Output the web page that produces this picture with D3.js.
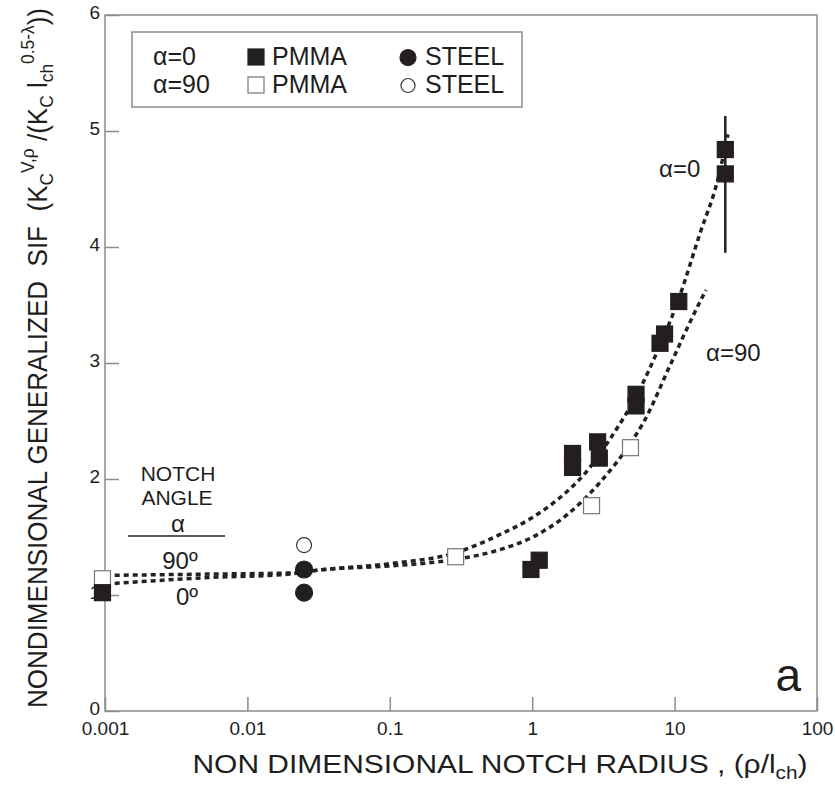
<!DOCTYPE html>
<html>
<head>
<meta charset="utf-8">
<script src="https://cdn.jsdelivr.net/npm/d3@7"></script>
<style>
  body { margin: 0; background: #fff; }
  svg text { font-family: "Liberation Sans", Arial, sans-serif; fill: #1e1e1e; }
</style>
</head>
<body>
<div id="chart"></div>
<script>
// x ticks (log) and y ticks
var xTicks = [0.001, 0.01, 0.1, 1, 10, 100];
var xTickLabels = ["0.001", "0.01", "0.1", "1", "10", "100"];
var yTicks = [0, 1, 2, 3, 4, 5, 6];

// PMMA, alpha = 0 (filled squares)
var pmma0X = [0.00096, 0.98, 1.12, 1.92, 1.92, 2.88, 2.96, 5.36, 5.36, 7.9, 8.5, 10.7, 22.7, 22.7];
var pmma0Y = [1.02, 1.22, 1.30, 2.22, 2.10, 2.32, 2.18, 2.73, 2.63, 3.17, 3.25, 3.53, 4.84, 4.63];

// PMMA, alpha = 90 (open squares)
var pmma90X = [0.00096, 0.29, 2.61, 4.9];
var pmma90Y = [1.14, 1.33, 1.77, 2.27];

// steel
var steel0X = [0.025, 0.025];
var steel0Y = [1.22, 1.02];
var steel90X = [0.025];
var steel90Y = [1.43];

// error bar on the largest radius
var errX = 22.7;
var errLow = 3.95;
var errHigh = 5.13;

// dashed fit curves
var curve0X = [0.00117, 0.0052, 0.020, 0.025, 0.035, 0.1, 0.3, 0.59, 1.01, 1.75, 2.28, 3.5, 6.0, 7.5, 10.6, 15.1, 19.9, 23.7];
var curve0Y = [1.10, 1.15, 1.18, 1.20, 1.22, 1.27, 1.37, 1.52, 1.67, 1.89, 2.03, 2.34, 2.83, 3.09, 3.54, 4.12, 4.56, 4.97];
var curve90X = [0.00117, 0.0052, 0.020, 0.025, 0.035, 0.1, 0.3, 0.59, 1.01, 1.75, 2.99, 5.1, 6.0, 9.3, 12.8, 16.6];
var curve90Y = [1.17, 1.18, 1.19, 1.20, 1.22, 1.25, 1.31, 1.39, 1.50, 1.69, 1.97, 2.34, 2.48, 2.98, 3.35, 3.63];

var svgWidth = 835;
var svgHeight = 785;
var margin = { top: 15, right: 18, bottom: 74, left: 105 };
var width = svgWidth - margin.left - margin.right;
var height = svgHeight - margin.top - margin.bottom;

var svg = d3.select("#chart")
    .append("svg")
    .attr("width", svgWidth)
    .attr("height", svgHeight);

var chartGroup = svg.append("g")
    .attr("transform", `translate(${margin.left}, ${margin.top})`);

var xScale = d3.scaleLog().domain([0.001, 100]).range([0, width]);
var yScale = d3.scaleLinear().domain([0, 6]).range([height, 0]);

var axisColor = "#8c8c8c";

// axes with inward ticks
var bottomAxis = d3.axisBottom(xScale)
    .tickValues(xTicks)
    .tickFormat((d, i) => xTickLabels[i])
    .tickSize(-14)
    .tickPadding(11);
var leftAxis = d3.axisLeft(yScale)
    .tickValues(yTicks)
    .tickFormat(d3.format("d"))
    .tickSize(-14)
    .tickPadding(5);

var gx = chartGroup.append("g")
    .attr("transform", `translate(0, ${height})`)
    .call(bottomAxis);
var gy = chartGroup.append("g").call(leftAxis);

[gx, gy].forEach(function(g) {
  g.select(".domain").remove();
  g.selectAll(".tick line").attr("stroke", axisColor).attr("stroke-width", 1.5);
  g.selectAll(".tick text").attr("font-size", "19px").attr("fill", "#1e1e1e");
});
gy.selectAll(".tick text").attr("dy", "0.2em");

// frame
chartGroup.append("rect")
    .attr("x", 0).attr("y", 0)
    .attr("width", width).attr("height", height)
    .attr("fill", "none")
    .attr("stroke", axisColor)
    .attr("stroke-width", 1.5);

// fit curves
var line = d3.line()
    .x(d => xScale(d[0]))
    .y(d => yScale(d[1]))
    .curve(d3.curveMonotoneX);

[[curve0X, curve0Y], [curve90X, curve90Y]].forEach(function(c) {
  chartGroup.append("path")
      .datum(c[0].map((x, i) => [x, c[1][i]]))
      .attr("d", line)
      .attr("fill", "none")
      .attr("stroke", "#222")
      .attr("stroke-width", 3.5)
      .attr("stroke-dasharray", "5,4");
});

// error bar
chartGroup.append("line")
    .attr("x1", xScale(errX)).attr("x2", xScale(errX))
    .attr("y1", yScale(errLow)).attr("y2", yScale(errHigh))
    .attr("stroke", "#222")
    .attr("stroke-width", 2.5);

var sq = 16;
var dark = "#231f20";

function squares(xs, ys, fill, stroke) {
  chartGroup.append("g").selectAll("rect")
      .data(xs.map((x, i) => [x, ys[i]]))
      .enter()
      .append("rect")
      .attr("x", d => xScale(d[0]) - sq / 2)
      .attr("y", d => yScale(d[1]) - sq / 2)
      .attr("width", sq)
      .attr("height", sq)
      .attr("fill", fill)
      .attr("stroke", stroke)
      .attr("stroke-width", 1.2);
}

function circles(xs, ys, fill, stroke, r) {
  chartGroup.append("g").selectAll("circle")
      .data(xs.map((x, i) => [x, ys[i]]))
      .enter()
      .append("circle")
      .attr("cx", d => xScale(d[0]))
      .attr("cy", d => yScale(d[1]))
      .attr("r", r)
      .attr("fill", fill)
      .attr("stroke", stroke)
      .attr("stroke-width", 1.2);
}

squares(pmma90X, pmma90Y, "#fff", "#777");
squares(pmma0X, pmma0Y, dark, dark);
circles(steel90X, steel90Y, "#fff", "#333", 7.5);
circles(steel0X, steel0Y, dark, dark, 8.5);

// legend
svg.append("rect")
    .attr("x", 132).attr("y", 32)
    .attr("width", 390).attr("height", 75)
    .attr("fill", "#fff")
    .attr("stroke", axisColor)
    .attr("stroke-width", 1.5);

var legRows = [
  { a: "α=0", y: 65, fill: dark, sqStroke: dark, cStroke: dark },
  { a: "α=90", y: 93, fill: "#fff", sqStroke: "#777", cStroke: "#333" }
];
legRows.forEach(function(r) {
  svg.append("text").attr("x", 153).attr("y", r.y).attr("font-size", "25px").text(r.a);
  svg.append("rect")
      .attr("x", 248).attr("y", r.y - 16)
      .attr("width", 16).attr("height", 16)
      .attr("fill", r.fill).attr("stroke", r.sqStroke).attr("stroke-width", 1.2);
  svg.append("text").attr("x", 272).attr("y", r.y).attr("font-size", "25px").text("PMMA");
  svg.append("circle")
      .attr("cx", 408).attr("cy", r.y - 7.5).attr("r", r.fill === dark ? 8 : 7)
      .attr("fill", r.fill).attr("stroke", r.cStroke).attr("stroke-width", 1.2);
  svg.append("text").attr("x", 425).attr("y", r.y).attr("font-size", "25px").text("STEEL");
});

// curve labels
svg.append("text").attr("x", 659).attr("y", 177).attr("font-size", "24px").text("α=0");
svg.append("text").attr("x", 706).attr("y", 361).attr("font-size", "24px").text("α=90");

// notch angle note
svg.append("text").attr("x", 178).attr("y", 481).attr("text-anchor", "middle").attr("font-size", "21px").text("NOTCH");
svg.append("text").attr("x", 177).attr("y", 505).attr("text-anchor", "middle").attr("font-size", "21px").text("ANGLE");
svg.append("text").attr("x", 178).attr("y", 532).attr("text-anchor", "middle").attr("font-size", "24px").text("α");
svg.append("line").attr("x1", 128).attr("x2", 225).attr("y1", 536).attr("y2", 536)
    .attr("stroke", "#222").attr("stroke-width", 1.5);
svg.append("text").attr("x", 180).attr("y", 569).attr("text-anchor", "middle").attr("font-size", "24px").text("90º");
svg.append("text").attr("x", 187).attr("y", 605).attr("text-anchor", "middle").attr("font-size", "24px").text("0º");

// panel letter
svg.append("text").attr("x", 801).attr("y", 691).attr("text-anchor", "end").attr("font-size", "46px").text("a");

// x title
var xt = svg.append("text")
    .attr("x", 500).attr("y", 773)
    .attr("text-anchor", "middle")
    .attr("font-size", "26px")
    .attr("textLength", 615)
    .attr("lengthAdjust", "spacingAndGlyphs");
xt.append("tspan").text("NON DIMENSIONAL NOTCH RADIUS , (ρ/l");
xt.append("tspan").attr("font-size", "18px").attr("dy", 6).text("ch");
xt.append("tspan").attr("dy", -6).text(")");

// y title
var yt = svg.append("text")
    .attr("transform", "translate(47, 708) rotate(-90)")
    .attr("x", 0).attr("y", 0)
    .attr("font-size", "27px")
    .attr("textLength", 700)
    .attr("lengthAdjust", "spacingAndGlyphs");
yt.append("tspan").text("NONDIMENSIONAL GENERALIZED\u00a0\u00a0SIF\u00a0\u00a0(K");
yt.append("tspan").attr("font-size", "18px").attr("dy", 6).text("C");
yt.append("tspan").attr("font-size", "18px").attr("dy", -19).text("V,ρ");
yt.append("tspan").attr("dy", 13).text(" /(K");
yt.append("tspan").attr("font-size", "18px").attr("dy", 6).text("C");
yt.append("tspan").attr("dy", -6).text(" l");
yt.append("tspan").attr("font-size", "18px").attr("dy", 6).text("ch");
yt.append("tspan").attr("font-size", "18px").attr("dy", -19).text("0.5-λ");
yt.append("tspan").attr("dy", 13).text("))");
</script>
</body>
</html>
